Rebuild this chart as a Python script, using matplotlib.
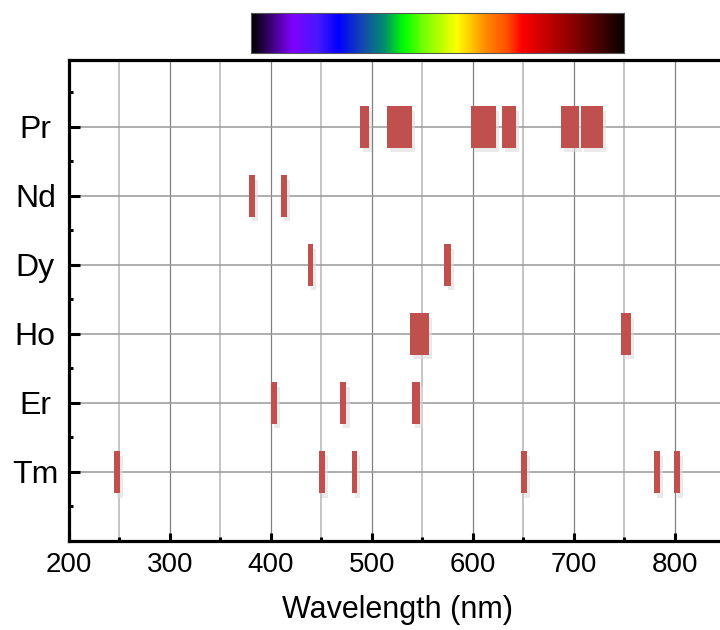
import numpy as np
import matplotlib
matplotlib.use("Agg")
import matplotlib.pyplot as plt
from matplotlib.colors import LinearSegmentedColormap
from matplotlib.patches import Rectangle

plt.rcParams['font.family'] = ['Liberation Sans', 'DejaVu Sans']

# Elements from top to bottom, and their emission bands (start, end) in nm
elements = ["Pr", "Nd", "Dy", "Ho", "Er", "Tm"]
pr_bands = [(488, 497), (515, 540), (598, 623), (629, 643), (687, 705), (707, 729)]
nd_bands = [(378, 384), (410, 416)]
dy_bands = [(437, 442), (572, 578)]
ho_bands = [(538, 557), (747, 757)]
er_bands = [(400, 406), (469, 475), (540, 548)]
tm_bands = [(245, 251), (448, 454), (480, 485), (648, 654), (779, 785), (799, 805)]
bands = [pr_bands, nd_bands, dy_bands, ho_bands, er_bands, tm_bands]

# visible spectrum strip
spec_range = (380, 750)
spec_nodes = [380, 420, 445, 466, 490, 512, 531, 550, 584, 612, 635, 648, 700, 750]
spec_colors = ["#000000", "#8000ff", "#4a18ff", "#0000ff", "#1548b0", "#00906a",
               "#00ff00", "#70ff00", "#ffff00", "#ff8c00", "#ff4a00", "#ff0000",
               "#880000", "#080000"]

fig = plt.figure(figsize=(7.2, 6.3), dpi=100)
ax = fig.add_axes([0.0954, 0.1413, 0.912, 0.7635])

n = len(elements)
ypos = np.arange(n, 0, -1)  # Pr at top
h = 0.6
bar_color = "#c0504d"

for y, bl in zip(ypos, bands):
    for s, e in bl:
        # soft drop shadow
        ax.add_patch(Rectangle((s + 3, y - h / 2 - 0.07), e - s, h, facecolor="#dcdcdc",
                               edgecolor="none", alpha=0.6, zorder=2))
        ax.add_patch(Rectangle((s, y - h / 2), e - s, h, facecolor=bar_color,
                               edgecolor="none", zorder=3))

ax.set_xlim(200, 850)
ax.set_ylim(0, 6.97)
ax.set_yticks(ypos)
ax.set_yticklabels(elements, ha="center")
ax.set_yticks(np.arange(0.5, 7, 1), minor=True)
ax.set_xticks(np.arange(200, 851, 100))
ax.set_xticks(np.arange(250, 851, 100), minor=True)

ax.grid(True, which="major", axis="x", color="#808080", lw=0.9, zorder=1)
ax.grid(True, which="minor", axis="x", color="#c0c0c0", lw=1.3, zorder=1)
ax.grid(True, which="major", axis="y", color="#999999", lw=1.1, zorder=1)
ax.set_axisbelow(True)

for sp in ax.spines.values():
    sp.set_linewidth(2.3)
ax.spines['right'].set_visible(False)

ax.tick_params(axis="x", which="major", direction="in", length=6, width=2.2,
               labelsize=20, pad=8, top=False)
ax.tick_params(axis="x", which="minor", direction="in", length=3, width=2.2, top=False)
ax.tick_params(axis="y", which="major", direction="in", length=8, width=2.2,
               labelsize=23, pad=24, right=False)
ax.tick_params(axis="y", which="minor", direction="in", length=3, width=2.2, right=False)

ax.set_xlabel("Wavelength (nm)", fontsize=22, labelpad=12)

# spectrum strip on top
cmap = LinearSegmentedColormap.from_list(
    "spec", [((v - spec_range[0]) / (spec_range[1] - spec_range[0]), c)
             for v, c in zip(spec_nodes, spec_colors)])
x0 = ax.transData.transform((spec_range[0], 0))[0] / fig.bbox.width
x1 = ax.transData.transform((spec_range[1], 0))[0] / fig.bbox.width
cax = fig.add_axes([x0, 1 - 53.3 / 630, x1 - x0, 40 / 630])
cax.imshow(np.linspace(0, 1, 400)[None, :], aspect="auto", cmap=cmap)
cax.set_xticks([])
cax.set_yticks([])
for sp in cax.spines.values():
    sp.set_color("#555555")
    sp.set_linewidth(0.8)

fig.savefig("out.png", dpi=100)
